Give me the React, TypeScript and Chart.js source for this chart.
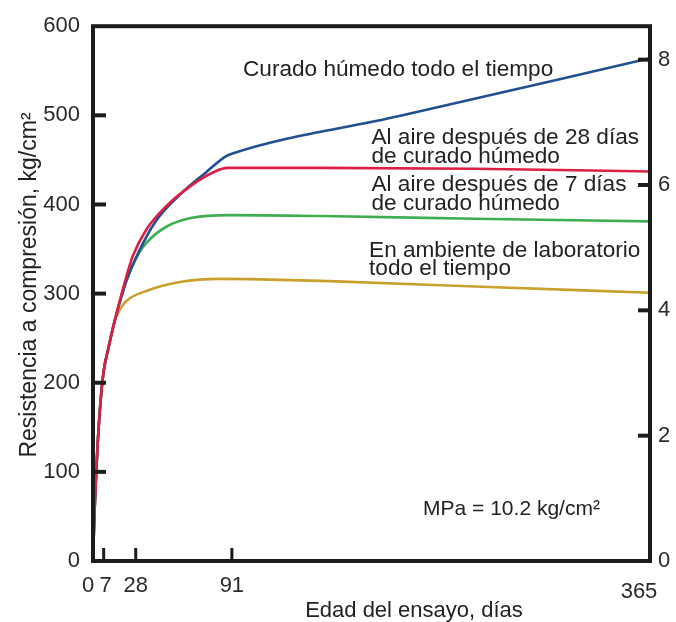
import { useEffect, useRef } from "react";
import { Chart, registerables } from "chart.js";

Chart.register(...registerables);

// Eje de edades (días) y escalas de resistencia
const edadTicks = [0, 7, 28, 91, 365];
const kgTicks = [0, 100, 200, 300, 400, 500, 600];
const psiTicks = [0, 2, 4, 6, 8];
const KG_POR_1000PSI = 70.307;

// Curado húmedo todo el tiempo
const humedoDias = [0, 1, 2, 3, 5, 7, 10, 14, 18, 22, 30, 41, 57, 74, 87, 91, 200, 365];
const humedoKg = [0, 55, 95, 130, 180, 213, 238, 268, 293, 315, 347, 381, 411, 436, 454, 457, 499, 564];

// Al aire después de 28 días de curado húmedo
const aire28Dias = [0, 1, 2, 3, 5, 7, 10, 14, 18, 22, 26, 35, 48, 65, 80, 88, 150, 250, 365];
const aire28Kg = [0, 55, 95, 130, 180, 213, 238, 268, 295, 320, 342, 372, 398, 422, 437, 441, 441, 440, 437];

// Al aire después de 7 días de curado húmedo
const aire7Dias = [0, 1, 2, 3, 5, 7, 10, 14, 18, 22, 30, 35, 48, 65, 89, 150, 250, 365];
const aire7Kg = [0, 55, 95, 130, 180, 213, 238, 268, 293, 315, 345, 357, 375, 385, 388, 387, 384, 381];

// En ambiente de laboratorio todo el tiempo
const labDias = [0, 1, 2, 3, 5, 7, 10, 14, 18, 22, 35, 57, 83, 110, 155, 250, 365];
const labKg = [0, 55, 95, 130, 180, 213, 238, 268, 283, 292, 303, 313, 316.5, 316, 314, 308, 301];

const etiquetaHumedo = ["Curado húmedo todo el tiempo"];
const etiquetaAire28 = ["Al aire después de 28 días", "de curado húmedo"];
const etiquetaAire7 = ["Al aire después de 7 días", "de curado húmedo"];
const etiquetaLab = ["En ambiente de laboratorio", "todo el tiempo"];
const notaUnidades = "MPa = 10.2 kg/cm²";
const tituloX = "Edad del ensayo, días";
const tituloY = "Resistencia a compresión, kg/cm²";

const FUENTE = '"Liberation Sans", Arial, sans-serif';
const TINTA = "#222222";
const GRIS_TICKS = "#2a2a2a";

const puntos = (dias: number[], kg: number[]) => dias.map((d, i) => ({ x: d, y: kg[i] }));

const serie = (label: string, dias: number[], kg: number[], color: string) => ({
  label,
  data: puntos(dias, kg),
  borderColor: color,
  backgroundColor: color,
  borderWidth: 2.6,
  pointRadius: 0,
  cubicInterpolationMode: "monotone" as const,
  fill: false,
});

// Marco, marcas interiores de los ejes, rótulos y títulos
const marcoYTextos = {
  id: "marcoYTextos",
  afterDatasetsDraw(chart: any) {
    const { ctx, chartArea: a, scales } = chart;
    const sx = scales.x;
    const sy = scales.y;
    const sy1 = scales.y1;
    ctx.save();
    ctx.strokeStyle = "#1c1c1c";
    ctx.lineWidth = 4;
    ctx.lineCap = "butt";
    ctx.strokeRect(a.left, a.top, a.right - a.left, a.bottom - a.top);

    // marcas del eje izquierdo
    kgTicks.forEach((v) => {
      if (v === 0 || v === 600) return;
      const y = sy.getPixelForValue(v);
      ctx.beginPath();
      ctx.moveTo(a.left, y);
      ctx.lineTo(a.left + 13, y);
      ctx.stroke();
    });
    // marcas del eje derecho
    psiTicks.forEach((v) => {
      if (v === 0) return;
      const y = sy1.getPixelForValue(v);
      ctx.beginPath();
      ctx.moveTo(a.right, y);
      ctx.lineTo(a.right - 12, y);
      ctx.stroke();
    });
    // marcas del eje de edades
    ctx.lineWidth = 3;
    edadTicks.forEach((v) => {
      if (v === 0 || v === 365) return;
      const x = sx.getPixelForValue(v);
      ctx.beginPath();
      ctx.moveTo(x, a.bottom);
      ctx.lineTo(x, a.bottom - 13);
      ctx.stroke();
    });

    // números del eje de edades (separados para que no se monten)
    ctx.fillStyle = GRIS_TICKS;
    ctx.font = `22px ${FUENTE}`;
    ctx.textAlign = "center";
    ctx.textBaseline = "middle";
    edadTicks.forEach((v, i) => {
      let x = sx.getPixelForValue(v);
      let y = a.bottom + 25;
      if (i === 0) x -= 5;
      if (i === 1) x += 2;
      if (i === edadTicks.length - 1) {
        x -= 11;
        y += 6;
      }
      ctx.fillText(String(v), x, y);
    });

    ctx.fillStyle = TINTA;
    ctx.textAlign = "left";
    ctx.textBaseline = "alphabetic";
    ctx.font = `22.6px ${FUENTE}`;
    const rotulo = (lineas: string[], dia: number, kg: number, salto: number) => {
      const x = sx.getPixelForValue(dia);
      const y0 = sy.getPixelForValue(kg);
      lineas.forEach((t, i) => ctx.fillText(t, x, y0 + i * salto));
    };
    rotulo(etiquetaHumedo, 98.3, 544.6, 19);
    rotulo(etiquetaAire28, 182.5, 467.6, 18.7);
    rotulo(etiquetaAire7, 182.5, 414.7, 18.5);
    rotulo(etiquetaLab, 180.9, 341.3, 18.7);

    ctx.font = `21px ${FUENTE}`;
    rotulo([notaUnidades], 216.3, 52, 0);

    // títulos de los ejes
    ctx.font = `22px ${FUENTE}`;
    ctx.textAlign = "center";
    ctx.fillText(tituloX, 414, 617);
    ctx.font = `23px ${FUENTE}`;
    ctx.translate(30, 285);
    ctx.rotate(-Math.PI / 2);
    ctx.textBaseline = "middle";
    ctx.fillText(tituloY, 0, 0);
    ctx.restore();
  },
};

export default function App() {
  const ref = useRef<HTMLCanvasElement | null>(null);

  useEffect(() => {
    if (!ref.current) return;
    const fuenteTicks = { family: FUENTE, size: 22 };
    const chart = new Chart(ref.current, {
      type: "line",
      data: {
        datasets: [
          serie("Al aire después de 28 días de curado húmedo", aire28Dias, aire28Kg, "#dd1f45"),
          serie("Curado húmedo todo el tiempo", humedoDias, humedoKg, "#1f4f8f"),
          serie("Al aire después de 7 días de curado húmedo", aire7Dias, aire7Kg, "#3fae52"),
          serie("En ambiente de laboratorio todo el tiempo", labDias, labKg, "#c9a02c"),
        ],
      },
      options: {
        responsive: false,
        animation: false,
        events: [],
        layout: { padding: { top: 19.5, left: 0, right: 0, bottom: 0 } },
        plugins: { legend: { display: false }, tooltip: { enabled: false }, title: { display: false } },
        scales: {
          x: {
            type: "linear",
            min: 0,
            max: 365,
            afterBuildTicks: (s: any) => {
              s.ticks = edadTicks.map((v) => ({ value: v }));
            },
            afterFit: (s: any) => {
              s.height = 61;
            },
            grid: { display: false, drawTicks: false },
            border: { display: false },
            ticks: { display: false, autoSkip: false, maxRotation: 0 },
          },
          y: {
            type: "linear",
            position: "left",
            min: 0,
            max: 600,
            afterBuildTicks: (s: any) => {
              s.ticks = kgTicks.map((v) => ({ value: v }));
            },
            afterFit: (s: any) => {
              s.width = 93;
            },
            grid: { display: false, drawTicks: false },
            border: { display: false },
            ticks: { padding: 13, font: fuenteTicks, color: GRIS_TICKS },
          },
          y1: {
            type: "linear",
            position: "right",
            min: 0,
            max: 600 / KG_POR_1000PSI,
            afterBuildTicks: (s: any) => {
              s.ticks = psiTicks.map((v) => ({ value: v }));
            },
            afterFit: (s: any) => {
              s.width = 26;
            },
            grid: { display: false, drawTicks: false },
            border: { display: false },
            ticks: { padding: 8, font: fuenteTicks, color: GRIS_TICKS },
          },
        },
      },
      plugins: [marcoYTextos],
    });
    return () => chart.destroy();
  }, []);

  return (
    <div style={{ position: "fixed", left: 0, top: 0, width: 676, height: 622, background: "#ffffff" }}>
      <canvas ref={ref} width={676} height={622} />
    </div>
  );
}
